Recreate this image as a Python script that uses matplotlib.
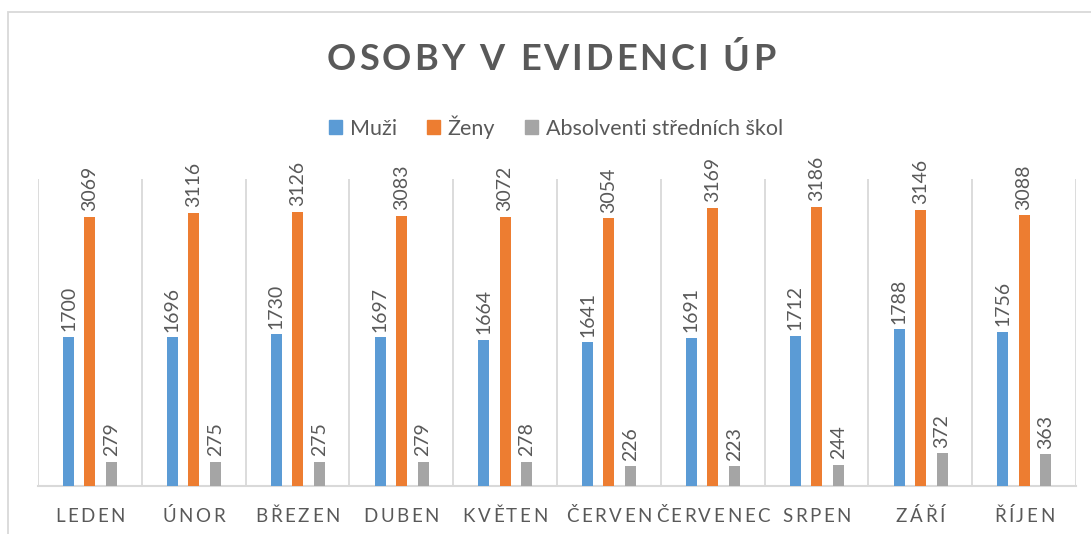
import matplotlib
matplotlib.use('Agg')
import matplotlib.pyplot as plt
import numpy as np
from matplotlib.patches import Patch, Rectangle
from matplotlib.transforms import IdentityTransform

plt.rcParams['font.family'] = ['Lato', 'DejaVu Sans']

mesice = ['LEDEN', 'ÚNOR', 'BŘEZEN', 'DUBEN', 'KVĚTEN', 'ČERVEN',
          'ČERVENEC', 'SRPEN', 'ZÁŘÍ', 'ŘÍJEN']
muzi = [1700, 1696, 1730, 1697, 1664, 1641, 1691, 1712, 1788, 1756]
zeny = [3069, 3116, 3126, 3083, 3072, 3054, 3169, 3186, 3146, 3088]
absolventi = [279, 275, 275, 279, 278, 226, 223, 244, 372, 363]

serie = [('Muži', muzi, '#5B9BD5'),
         ('Ženy', zeny, '#ED7D31'),
         ('Absolventi středních škol', absolventi, '#A5A5A5')]

W, H = 1091, 534
txt_col = '#595959'
grid_col = '#D9D9D9'

fig = plt.figure(figsize=(W / 100, H / 100), dpi=100)
ax = fig.add_axes([38 / W, 1 - 486 / H, (1076 - 38) / W, (486 - 179) / H])

x = np.arange(len(mesice))
width = 0.106
offs = [-0.205, 0.0, 0.21]
for (name, vals, col), o in zip(serie, offs):
    bars = ax.bar(x + o, vals, width=width, color=col, zorder=3)
    for b, v in zip(bars, vals):
        ax.annotate(str(v), (b.get_x() + b.get_width() / 2, b.get_height()),
                    xytext=(0, 4), textcoords='offset points',
                    rotation=90, ha='center', va='bottom',
                    fontsize=14, color=txt_col)

ax.set_xlim(-0.5, len(mesice) - 0.5)
ax.set_ylim(0, 3500)
for b in np.arange(-0.5, len(mesice), 1.0):
    ax.axvline(b, color=grid_col, lw=1.3, zorder=1)
for s in ['top', 'right', 'left']:
    ax.spines[s].set_visible(False)
ax.spines['bottom'].set_color(grid_col)
ax.spines['bottom'].set_linewidth(1.5)
ax.set_xticks([])
ax.set_yticks([])

renderer = fig.canvas.get_renderer()


def spaced_text(cx, cy, s, gap, **kw):
    # draw text letter by letter with extra spacing (pixel coords)
    parts = []
    widths = []
    for c in s:
        t = fig.text(0, 0, c, transform=IdentityTransform(),
                     ha='left', va='center', **kw)
        w = t.get_window_extent(renderer).width
        if c == ' ':
            w = kw.get('fontsize', 12) * 0.35
        parts.append(t)
        widths.append(w)
    total = sum(widths) + gap * (len(s) - 1)
    xx = cx - total / 2
    for t, w in zip(parts, widths):
        t.set_position((xx, cy))
        xx += w + gap


# title
spaced_text(551, H - 60, 'OSOBY V EVIDENCI ÚP', 3, fontsize=26,
            fontweight='bold', color=txt_col)

# category labels
for i, m in enumerate(mesice):
    cx = ax.transData.transform((i, 0))[0]
    spaced_text(cx, H - 516, m, 2.5, fontsize=13.5, color=txt_col)

handles = [Patch(color=c, label=n) for n, v, c in serie]
fig.legend(handles=handles, loc='center', bbox_to_anchor=(556 / W, 1 - 127 / H),
           ncol=3, frameon=False, fontsize=15.5, labelcolor=txt_col,
           handlelength=0.6, handleheight=0.6, handletextpad=0.35,
           columnspacing=1.4)

# chart border (cut off on right and bottom)
fig.patches.append(Rectangle((8 / W, -0.2), 1.2, 1.2 - 12 / H,
                             transform=fig.transFigure, fill=False,
                             edgecolor=grid_col, lw=1.3))

fig.savefig('out.png', dpi=100)
